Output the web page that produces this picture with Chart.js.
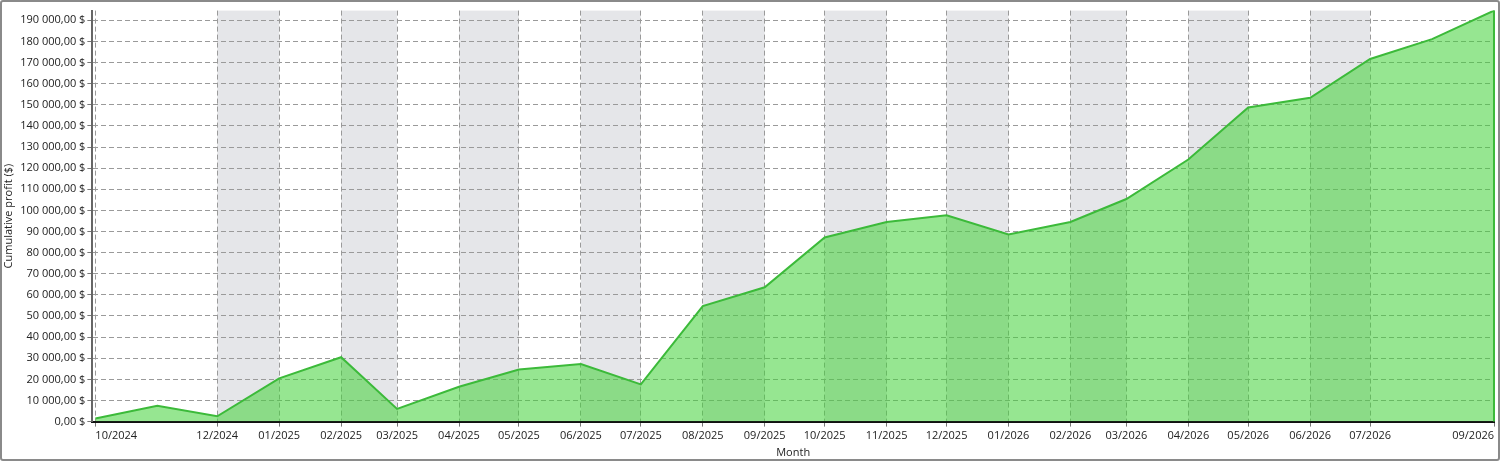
<!DOCTYPE html>
<html>
<head>
<meta charset="utf-8">
<script src="https://cdn.jsdelivr.net/npm/chart.js@4"></script>
<style>
    html, body { margin: 0; padding: 0; background: #fff; }
    #wrap {
        width: 1500px; height: 461px; box-sizing: border-box;
        border: 2px solid #8a8a8a; border-radius: 3px; position: relative;
    }
</style>
</head>
<body>
<div id="wrap"><canvas id="profitChart"></canvas></div>
<script>
    // Monate (Datenpunkte) und kumulierter Gewinn
    const months = [
        '2024-10', '2024-11', '2024-12', '2025-01', '2025-02', '2025-03',
        '2025-04', '2025-05', '2025-06', '2025-07', '2025-08', '2025-09',
        '2025-10', '2025-11', '2025-12', '2026-01', '2026-02', '2026-03',
        '2026-04', '2026-05', '2026-06', '2026-07', '2026-08', '2026-09'
    ];
    const profit = [
        1500, 7500, 2500, 20500, 30500, 6000,
        16500, 24700, 27300, 17600, 54700, 63600,
        87200, 94500, 97700, 88600, 94500, 105400,
        124100, 148700, 153300, 171700, 181100, 194600
    ];

    // Beschriftete Monate auf der x-Achse
    const tickMonths = [
        '2024-10', '2024-12', '2025-01', '2025-02', '2025-03', '2025-04',
        '2025-05', '2025-06', '2025-07', '2025-08', '2025-09', '2025-10',
        '2025-11', '2025-12', '2026-01', '2026-02', '2026-03', '2026-04',
        '2026-05', '2026-06', '2026-07', '2026-09'
    ];

    // Beschriftete Werte auf der y-Achse
    const yTicks = [
        0, 10000, 20000, 30000, 40000, 50000, 60000, 70000, 80000, 90000,
        100000, 110000, 120000, 130000, 140000, 150000, 160000, 170000,
        180000, 190000
    ];

    function toTime(m) {
        const parts = m.split('-');
        return Date.UTC(+parts[0], +parts[1] - 1, 1);
    }

    function formatMonth(value) {
        const d = new Date(value);
        const mm = String(d.getUTCMonth() + 1).padStart(2, '0');
        return mm + '/' + d.getUTCFullYear();
    }

    function formatMoney(value) {
        const parts = value.toFixed(2).split('.');
        const intPart = parts[0].replace(/\B(?=(\d{3})+(?!\d))/g, ' ');
        return intPart + ',' + parts[1] + ' $';
    }

    const points = months.map((m, i) => ({ x: toTime(m), y: profit[i] }));
    const tickValues = tickMonths.map(toTime);

    // graue Streifen zwischen jedem zweiten Monatspaar
    const bandPlugin = {
        id: 'bands',
        beforeDraw(chart) {
            const ctx = chart.ctx;
            const area = chart.chartArea;
            const xs = chart.scales.x;
            ctx.save();
            ctx.fillStyle = '#e5e6e9';
            for (let i = 1; i + 1 < tickValues.length - 1; i += 2) {
                const x1 = xs.getPixelForValue(tickValues[i]);
                const x2 = xs.getPixelForValue(tickValues[i + 1]);
                ctx.fillRect(x1, area.top, x2 - x1, area.bottom - area.top);
            }
            ctx.restore();
        },
        afterDatasetsDraw(chart) {
            // rechte Kante der Fläche
            const meta = chart.getDatasetMeta(0);
            const last = meta.data[meta.data.length - 1];
            const ctx = chart.ctx;
            ctx.save();
            ctx.strokeStyle = '#3cba3a';
            ctx.lineWidth = 2;
            ctx.beginPath();
            ctx.moveTo(last.x, last.y);
            ctx.lineTo(last.x, chart.scales.y.getPixelForValue(0));
            ctx.stroke();
            ctx.restore();
        }
    };

    const fontFamily = '"Open Sans", sans-serif';

    new Chart(document.getElementById('profitChart'), {
        type: 'line',
        data: {
            datasets: [{
                data: points,
                borderColor: '#3cba3a',
                borderWidth: 2,
                backgroundColor: 'rgba(67, 210, 59, 0.56)',
                fill: 'origin',
                pointRadius: 0,
                tension: 0
            }]
        },
        options: {
            responsive: true,
            maintainAspectRatio: false,
            animation: false,
            layout: { padding: { top: 3, right: 4, left: 0, bottom: 0 } },
            plugins: {
                legend: { display: false },
                tooltip: { enabled: false }
            },
            scales: {
                x: {
                    type: 'linear',
                    min: toTime('2024-10') - 1.5 * 86400000,
                    max: toTime('2026-09'),
                    afterBuildTicks(scale) {
                        scale.ticks = tickValues.map(v => ({ value: v }));
                    },
                    ticks: {
                        autoSkip: false,
                        maxRotation: 0,
                        align: 'inner',
                        color: '#222',
                        font: { family: fontFamily, size: 11 },
                        padding: 3,
                        callback: v => formatMonth(v)
                    },
                    grid: { color: '#9a9a9a', tickLength: 5, tickColor: '#777' },
                    border: { display: true, color: '#111', width: 2, dash: [5, 3] },
                    title: {
                        display: true, text: 'Month', color: '#222',
                        font: { family: fontFamily, size: 11 }, padding: { top: 0, bottom: 0 }
                    }
                },
                y: {
                    min: 0,
                    max: Math.max(...profit),
                    afterBuildTicks(scale) {
                        scale.ticks = yTicks.map(v => ({ value: v }));
                    },
                    ticks: {
                        color: '#222',
                        font: { family: fontFamily, size: 11 },
                        padding: 2,
                        callback: v => formatMoney(v)
                    },
                    grid: { color: '#9a9a9a', tickLength: 5, tickColor: '#777' },
                    border: { display: true, color: '#666', width: 2, dash: [5, 3] },
                    title: {
                        display: true, text: 'Cumulative profit ($)', color: '#222',
                        font: { family: fontFamily, size: 11 }, padding: { top: 0, bottom: 3 }
                    }
                }
            }
        },
        plugins: [bandPlugin]
    });
</script>
</body>
</html>
